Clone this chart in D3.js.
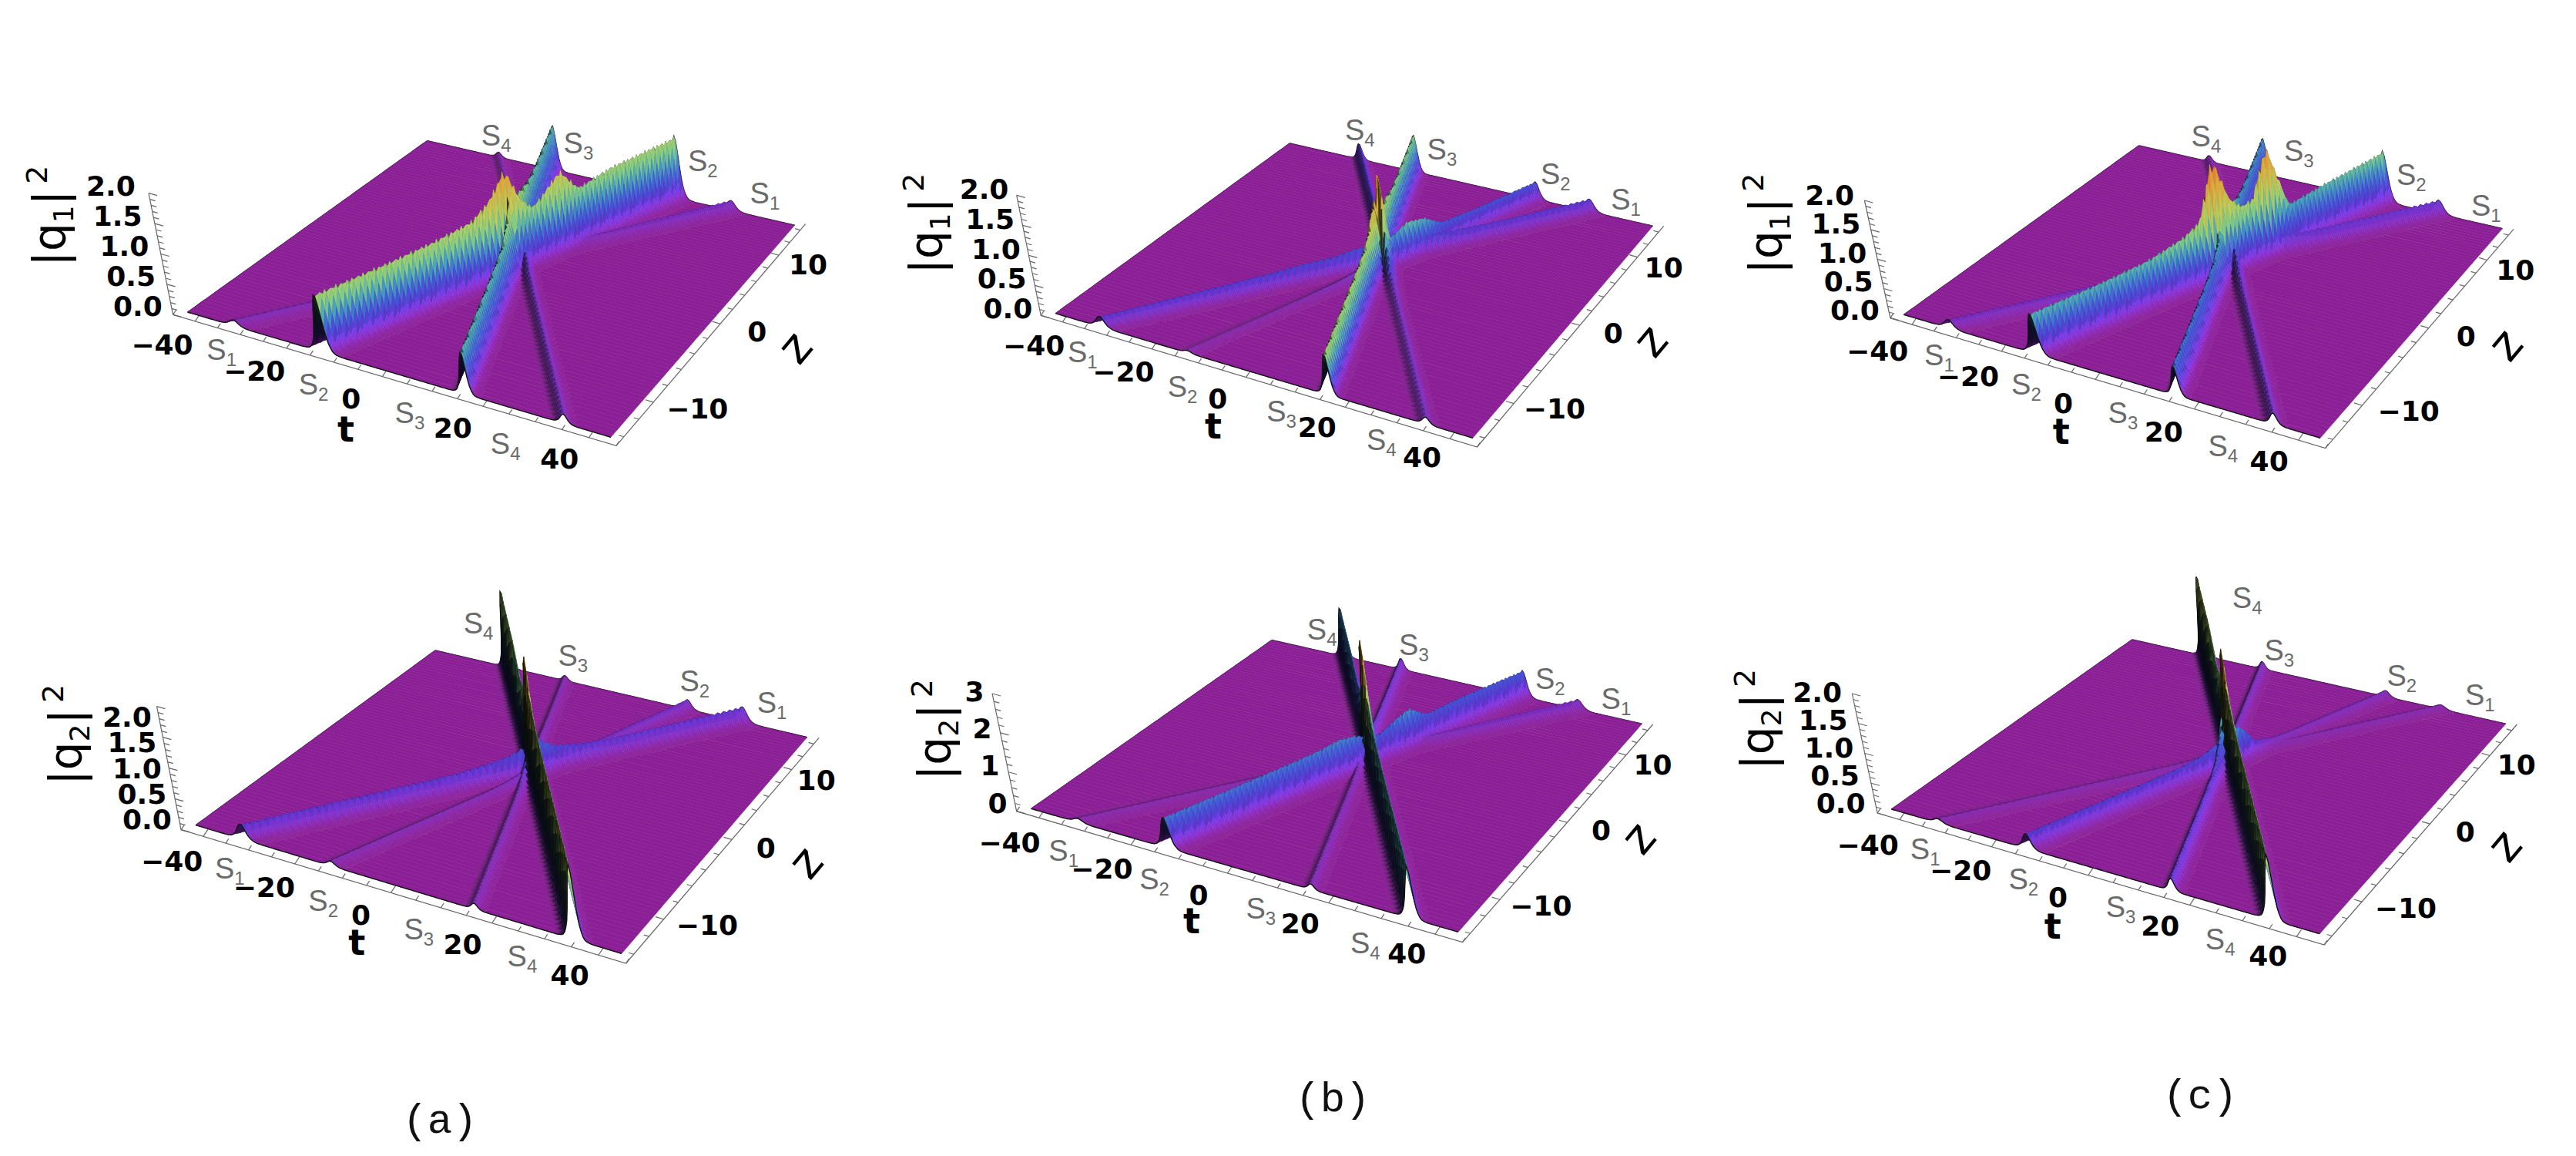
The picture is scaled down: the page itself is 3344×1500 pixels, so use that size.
<!DOCTYPE html>
<html>
<head>
<meta charset="utf-8">
<script src="https://cdn.jsdelivr.net/npm/d3@7"></script>
<style>
  html, body { margin: 0; background: #fff; }
  text { font-family: "DejaVu Sans", sans-serif; }
  .tick-label { font-weight: bold; font-size: 36px; text-anchor: middle; fill: #000; }
  .soliton { font-family: "Liberation Sans", sans-serif; font-size: 38px; fill: #6a6a6a; text-anchor: middle; }
  .caption { font-family: "Liberation Mono", monospace; font-size: 54px; text-anchor: middle; fill: #111; }
</style>
</head>
<body>
<svg id="fig" width="3344" height="1500"></svg>
<script>
// axis ranges and ticks
var tRange = [-45, 45];
var zRange = [-15, 15];
var tTicks = [-40, -20, 0, 20, 40];
var zTicks = [-10, 0, 10];

// where each soliton meets the z = -15 and z = 15 edges of the plate (S1..S4)
var solitonNames = ["1", "2", "3", "4"];
var tAtFront = [-34, -14, 16.3, 36];
var tAtBack = [30.6, 18, -11.5, -26];
var ridgeWidth = [1.3, 1.1, 0.8, 0.85];

// cross section of a ridge
var shapeOffset = [0, 0.25, 0.5, 0.75, 1, 1.25, 1.5, 2, 2.5, 3, 4];
var shapeHeight = [1, 0.94, 0.79, 0.6, 0.42, 0.28, 0.18, 0.07, 0.025, 0.01, 0];

// ridge height along z
var zStations = [-15, -10, -6, -3, -1.5, 0, 1, 2, 3, 4.5, 6, 9, 15];

var q1aS1 = [0.10, 0.10, 0.10, 0.10, 0.10, 0.08, 0.10, 0.12, 0.05, 0.08, 0.12, 0.14, 0.16];
var q1aS2 = [0.97, 0.97, 0.99, 1.05, 1.25, 1.65, 1.10, 0.85, 1.00, 1.25, 0.85, 0.95, 0.98];
var q1aS3 = [0.72, 0.72, 0.72, 0.75, 0.90, 1.15, 0.70, 0.90, 0.95, 0.85, 0.78, 0.74, 0.72];
var q1aS4 = [0.16, 0.16, 0.16, 0.17, 0.20, 0.30, 0.30, 0.25, 0.10, 0.08, 0.08, 0.08, 0.08];

var q1bS1 = [0.18, 0.20, 0.22, 0.25, 0.25, 0.30, 0.30, 0.35, 0.30, 0.25, 0.22, 0.20, 0.20];
var q1bS2 = [0.04, 0.04, 0.05, 0.07, 0.12, 0.25, 0.40, 0.45, 0.55, 0.50, 0.30, 0.28, 0.28];
var q1bS3 = [0.70, 0.70, 0.70, 0.72, 0.80, 1.00, 1.05, 0.60, 0.70, 0.70, 0.62, 0.60, 0.60];
var q1bS4 = [0.12, 0.12, 0.12, 0.13, 0.20, 0.50, 1.35, 1.40, 0.80, 0.40, 0.28, 0.25, 0.25];

var q1cS1 = [0.15, 0.15, 0.15, 0.17, 0.20, 0.25, 0.30, 0.30, 0.25, 0.25, 0.23, 0.23, 0.23];
var q1cS2 = [0.70, 0.70, 0.73, 0.85, 1.00, 1.95, 1.20, 0.95, 1.00, 1.75, 0.65, 0.72, 0.83];
var q1cS3 = [0.52, 0.52, 0.52, 0.55, 0.65, 0.85, 0.70, 0.70, 0.75, 0.70, 0.62, 0.60, 0.60];
var q1cS4 = [0.20, 0.20, 0.20, 0.20, 0.25, 0.40, 0.50, 0.40, 0.20, 0.12, 0.10, 0.10, 0.10];

var q2aS1 = [0.25, 0.25, 0.25, 0.25, 0.28, 0.32, 0.40, 0.50, 0.35, 0.28, 0.24, 0.24, 0.24];
var q2aS2 = [0.08, 0.08, 0.08, 0.08, 0.10, 0.15, 0.20, 0.30, 0.20, 0.12, 0.12, 0.14, 0.15];
var q2aS3 = [0.10, 0.10, 0.10, 0.10, 0.12, 0.20, 0.30, 0.30, 0.20, 0.12, 0.10, 0.08, 0.08];
var q2aS4 = [1.27, 1.27, 1.27, 1.28, 1.32, 1.50, 1.95, 1.45, 1.20, 1.00, 0.95, 1.15, 1.20];

var q2bS1 = [0.10, 0.10, 0.10, 0.10, 0.12, 0.15, 0.20, 0.25, 0.15, 0.15, 0.20, 0.22, 0.24];
var q2bS2 = [0.80, 0.80, 0.80, 0.82, 0.88, 0.80, 0.60, 0.60, 0.75, 0.92, 0.60, 0.65, 0.65];
var q2bS3 = [0.15, 0.15, 0.15, 0.15, 0.18, 0.25, 0.40, 0.50, 0.40, 0.32, 0.28, 0.27, 0.27];
var q2bS4 = [1.38, 1.38, 1.38, 1.40, 1.50, 1.90, 3.10, 1.80, 1.30, 1.10, 0.95, 1.15, 1.20];

var q2cS1 = [0.07, 0.07, 0.07, 0.07, 0.07, 0.10, 0.15, 0.12, 0.07, 0.07, 0.07, 0.07, 0.07];
var q2cS2 = [0.26, 0.26, 0.26, 0.27, 0.30, 0.40, 0.60, 0.50, 0.20, 0.12, 0.10, 0.10, 0.10];
var q2cS3 = [0.22, 0.22, 0.22, 0.24, 0.30, 0.45, 0.70, 0.50, 0.25, 0.14, 0.12, 0.12, 0.12];
var q2cS4 = [1.15, 1.15, 1.15, 1.16, 1.25, 1.40, 1.90, 1.40, 1.20, 1.00, 1.00, 1.25, 1.30];

// height colours (fraction of the panel maximum)
var colorStops = [0, 0.05, 0.12, 0.2, 0.3, 0.38, 0.5, 0.7, 0.85, 1];
var colorValues = ["#8b1f96", "#7a2bb4", "#5a38d0", "#4458d8", "#46a0be", "#82cd87", "#becd5a", "#e1a53c", "#e87830", "#e6321e"];

// layout, in the coordinates of the zoom crops: x / sx + x0, y / 3 + y0
var panels = [
  { rows: [q1aS1, q1aS2, q1aS3, q1aS4], sub: "1", hMax: 2, hTicks: [0, 0.5, 1, 1.5, 2], hMinor: 0.1, fmt: ".1f", colorMax: 2.0,
    x0: 0, y0: 120, sx: 1.425,
    left: [347, 855], back: [790, 188], right: [1470, 517], front: [1130, 1342],
    frameLeft: [320, 865], frameFront: [1140, 1375], frameRight: [1490, 512], axisTop: [275, 392],
    tFirst: [300, 980], tLast: [1035, 1425], zFirst: [1290, 1230], zLast: [1495, 670],
    hFirst: [255, 830], hLast: [205, 362],
    tTitle: [640, 1310], zTitle: [1475, 1000], yTitle: [95, 480],
    sBack: [[1415, 395], [1300, 270], [1070, 200], [918, 170]],
    sFront: [[410, 1005], [580, 1140], [758, 1250], [935, 1370]] },
  { rows: [q1bS1, q1bS2, q1bS3, q1bS4], sub: "1", hMax: 2, hTicks: [0, 0.5, 1, 1.5, 2], hMinor: 0.1, fmt: ".1f", colorMax: 1.45,
    x0: 1100, y0: 120, sx: 1.425,
    left: [385, 860], back: [818, 198], right: [1490, 520], front: [1157, 1345],
    frameLeft: [358, 868], frameFront: [1165, 1380], frameRight: [1510, 520], axisTop: [313, 400],
    tFirst: [345, 985], tLast: [1063, 1420], zFirst: [1308, 1230], zLast: [1510, 680],
    hFirst: [297, 840], hLast: [253, 375],
    tTitle: [677, 1300], zTitle: [1490, 975], yTitle: [150, 510],
    sBack: [[1440, 420], [1310, 320], [1100, 225], [948, 150]],
    sFront: [[435, 1015], [620, 1150], [803, 1245], [988, 1355]] },
  { rows: [q1cS1, q1cS2, q1cS3, q1cS4], sub: "1", hMax: 2, hTicks: [0, 0.5, 1, 1.5, 2], hMinor: 0.1, fmt: ".1f", colorMax: 2.0,
    x0: 2200, y0: 120, sx: 1.3706,
    left: [372, 865], back: [790, 207], right: [1437, 530], front: [1113, 1345],
    frameLeft: [348, 878], frameFront: [1122, 1385], frameRight: [1457, 532], axisTop: [302, 420],
    tFirst: [325, 1005], tLast: [1022, 1435], zFirst: [1270, 1240], zLast: [1460, 690],
    hFirst: [285, 845], hLast: [240, 400],
    tTitle: [652, 1320], zTitle: [1447, 990], yTitle: [130, 510],
    sBack: [[1408, 445], [1275, 325], [1075, 230], [910, 175]],
    sFront: [[435, 1025], [590, 1140], [762, 1250], [940, 1380]] },
  { rows: [q2aS1, q2aS2, q2aS3, q2aS4], sub: "2", hMax: 2, hTicks: [0, 0.5, 1, 1.5, 2], hMinor: 0.1, fmt: ".1f", colorMax: 1.95,
    x0: 0, y0: 730, sx: 1.425,
    left: [362, 1022], back: [805, 342], right: [1493, 680], front: [1150, 1522],
    frameLeft: [335, 1040], frameFront: [1158, 1560], frameRight: [1515, 682], axisTop: [290, 560],
    tFirst: [318, 1160], tLast: [1054, 1605], zFirst: [1308, 1410], zLast: [1510, 845],
    hFirst: [272, 1000], hLast: [235, 600],
    tTitle: [660, 1480], zTitle: [1495, 1175], yTitle: [125, 670],
    sBack: [[1428, 550], [1285, 465], [1060, 365], [885, 240]],
    sFront: [[425, 1195], [598, 1320], [775, 1430], [966, 1535]] },
  { rows: [q2bS1, q2bS2, q2bS3, q2bS4], sub: "2", hMax: 3, hTicks: [0, 1, 2, 3], hMinor: 0.2, fmt: "d", colorMax: 3.1,
    x0: 1100, y0: 730, sx: 1.425,
    left: [340, 958], back: [785, 302], right: [1470, 628], front: [1130, 1438],
    frameLeft: [313, 968], frameFront: [1138, 1478], frameRight: [1490, 630], axisTop: [268, 510],
    tFirst: [300, 1090], tLast: [1035, 1520], zFirst: [1283, 1335], zLast: [1490, 785],
    hFirst: [278, 935], hLast: [235, 500],
    tTitle: [637, 1395], zTitle: [1468, 1080], yTitle: [165, 650],
    sBack: [[1422, 535], [1300, 455], [1048, 325], [878, 265]],
    sFront: [[400, 1125], [568, 1235], [765, 1350], [958, 1485]] },
  { rows: [q2cS1, q2cS2, q2cS3, q2cS4], sub: "2", hMax: 2, hTicks: [0, 0.5, 1, 1.5, 2], hMinor: 0.1, fmt: ".1f", colorMax: 1.9,
    x0: 2200, y0: 730, sx: 1.3706,
    left: [350, 960], back: [778, 300], right: [1443, 628], front: [1112, 1445],
    frameLeft: [325, 975], frameFront: [1120, 1488], frameRight: [1463, 630], axisTop: [280, 510],
    tFirst: [308, 1097], tLast: [1020, 1530], zFirst: [1265, 1345], zLast: [1462, 785],
    hFirst: [260, 935], hLast: [218, 505],
    tTitle: [637, 1415], zTitle: [1445, 1110], yTitle: [115, 610],
    sBack: [[1397, 520], [1258, 445], [1040, 345], [983, 140]],
    sFront: [[410, 1120], [585, 1235], [758, 1345], [935, 1470]] }
];

var captions = [["(a)", 571, 1470], ["(b)", 1730, 1442], ["(c)", 2856, 1438]];

var svg = d3.select("#fig");
var tToU = d3.scaleLinear().domain(tRange).range([0, 1]);
var zToV = d3.scaleLinear().domain(zRange).range([0, 1]);
var color = d3.scaleLinear().domain(colorStops).range(colorValues).clamp(true);
var shape = d3.scaleLinear().domain(shapeOffset).range(shapeHeight).clamp(true);
var tStep = 0.3, zStep = 0.4;
// vertical lines converge below the plot, this far away in axis lengths
var vanish = 27.7;

// perspective map of the unit square onto the plate
function plateMap(p00, p10, p11, p01) {
  var dx1 = p10[0] - p11[0], dx2 = p01[0] - p11[0], sx = p00[0] - p10[0] + p11[0] - p01[0];
  var dy1 = p10[1] - p11[1], dy2 = p01[1] - p11[1], sy = p00[1] - p10[1] + p11[1] - p01[1];
  var den = dx1 * dy2 - dx2 * dy1;
  var g = (sx * dy2 - dx2 * sy) / den, h = (dx1 * sy - sx * dy1) / den;
  var a = p10[0] - p00[0] + g * p10[0], b = p01[0] - p00[0] + h * p01[0];
  var d = p10[1] - p00[1] + g * p10[1], e = p01[1] - p00[1] + h * p01[1];
  return function (u, v) {
    var w = g * u + h * v + 1;
    return [(a * u + b * v + p00[0]) / w, (d * u + e * v + p00[1]) / w];
  };
}

panels.forEach(drawPanel);

captions.forEach(function (c) {
  svg.append("text").attr("class", "caption").attr("x", c[1]).attr("y", c[2]).text(c[0]);
});

function drawPanel(p) {
  var at = function (c) { return [p.x0 + c[0] / p.sx, p.y0 + c[1] / 3]; };
  var g = svg.append("g");
  var base = plateMap(at(p.left), at(p.front), at(p.right), at(p.back));
  var bl = at(p.frameLeft), top = at(p.axisTop);
  var vp = [bl[0] + vanish * (bl[0] - top[0]), bl[1] + vanish * (bl[1] - top[1])];
  var hToK = d3.scaleLinear().domain([0, p.hMax]).range([0, 1 / vanish]);
  var slopeScale = (bl[1] - top[1]) / p.hMax / 80;

  function project(t, z, h) {
    var b = base(tToU(t), zToV(z)), k = hToK(h);
    return [b[0] + k * (b[0] - vp[0]), b[1] + k * (b[1] - vp[1])];
  }

  var ridges = p.rows.map(function (row, i) {
    return {
      center: d3.scaleLinear().domain(zRange).range([tAtFront[i], tAtBack[i]]),
      amp: d3.scaleLinear().domain(zStations).range(row),
      width: ridgeWidth[i]
    };
  });

  function height(t, z) {
    var best = 0;
    ridges.forEach(function (r) {
      var off = Math.abs(t - r.center(z)) / r.width;
      if (off < 4) best = Math.max(best, r.amp(z) * shape(off));
    });
    return best;
  }

  var ts = d3.range(tRange[0], tRange[1] + 0.001, tStep);
  var zs = d3.range(zRange[1], zRange[0] - 0.001, -zStep);
  var heights = zs.map(function (z) { return ts.map(function (t) { return height(t, z); }); });

  function shade(h, gx) {
    var c = d3.rgb(color(h / p.colorMax));
    var s = gx * slopeScale, f = 1;
    if (s > 0) f = 1 / (1 + 12 * s);
    else if (h / p.colorMax < 0.1) f = 1 + Math.min(0.18, -0.9 * s);
    return d3.rgb(c.r * f, c.g * f, c.b * f).formatHex();
  }

  // back to front, left to right, so nearer cells paint over farther ones
  var cells = [];
  var flat = 0.004;
  for (var i = 0; i < zs.length - 1; i++) {
    var runStart = -1;
    for (var j = 0; j < ts.length - 1; j++) {
      var h00 = heights[i][j], h01 = heights[i][j + 1], h10 = heights[i + 1][j], h11 = heights[i + 1][j + 1];
      if (Math.max(h00, h01, h10, h11) < flat) {
        if (runStart < 0) runStart = j;
        if (j < ts.length - 2) continue;
      }
      if (runStart >= 0) {
        var endCol = Math.max(h00, h01, h10, h11) < flat ? j + 1 : j;
        cells.push({
          pts: [project(ts[runStart], zs[i], 0), project(ts[endCol], zs[i], 0), project(ts[endCol], zs[i + 1], 0), project(ts[runStart], zs[i + 1], 0)],
          fill: colorValues[0]
        });
        runStart = -1;
        if (endCol === j + 1) continue;
      }
      var gx = (h01 + h11 - h00 - h10) / (2 * tStep);
      cells.push({
        pts: [project(ts[j], zs[i], h00), project(ts[j + 1], zs[i], h01), project(ts[j + 1], zs[i + 1], h11), project(ts[j], zs[i + 1], h10)],
        fill: shade((h00 + h01 + h10 + h11) / 4, gx)
      });
    }
  }

  var line = d3.line();

  // frame and ticks sit behind the surface
  var frameG = g.append("g").attr("stroke", "#666").attr("stroke-width", 1.2).attr("fill", "none");
  frameG.append("path").attr("d", line([top, bl, at(p.frameFront), at(p.frameRight)]));

  var frontOff = [at(p.frameFront)[0] - at(p.front)[0], at(p.frameFront)[1] - at(p.front)[1]];
  var leftOff = [bl[0] - at(p.left)[0], bl[1] - at(p.left)[1]];
  var rightOff = [at(p.frameRight)[0] - at(p.right)[0], at(p.frameRight)[1] - at(p.right)[1]];

  var tFrame = function (t) {
    var u = tToU(t), b = base(u, 0);
    return [b[0] + leftOff[0] + u * (frontOff[0] - leftOff[0]), b[1] + leftOff[1] + u * (frontOff[1] - leftOff[1])];
  };
  var zFrame = function (z) {
    var v = zToV(z), b = base(1, v);
    return [b[0] + frontOff[0] + v * (rightOff[0] - frontOff[0]), b[1] + frontOff[1] + v * (rightOff[1] - frontOff[1])];
  };

  d3.range(-45, 45.1, 5).forEach(function (t) {
    var a = tFrame(t), len = tTicks.indexOf(t) >= 0 ? 11 : 7;
    frameG.append("path").attr("d", line([a, [a[0] + len * 0.55, a[1] - len * 0.83]]));
  });
  d3.range(-14, 14.1, 2).forEach(function (z) {
    var a = zFrame(z), len = zTicks.indexOf(z) >= 0 ? 11 : 7;
    frameG.append("path").attr("d", line([a, [a[0] - len * 0.96, a[1] - len * 0.28]]));
  });
  var hAxis = d3.scaleLinear().domain([0, p.hMax]);
  d3.range(0, p.hMax + 0.001, p.hMinor).forEach(function (h) {
    var f = hAxis(h), x = bl[0] + f * (top[0] - bl[0]), y = bl[1] + f * (top[1] - bl[1]);
    var major = p.hTicks.some(function (v) { return Math.abs(v - h) < 1e-6; });
    frameG.append("path").attr("d", line([[x, y], [x + (major ? 11 : 7), y + (major ? 3 : 2)]]));
  });

  // back outlines
  var outline = g.append("g").attr("fill", "none").attr("stroke", "#111");
  outline.append("path").attr("stroke-width", 1.6)
    .attr("d", line(ts.map(function (t, j) { return project(t, zRange[1], heights[0][j]); })));
  outline.append("path").attr("stroke-width", 1.2)
    .attr("d", line(zs.map(function (z) { return project(tRange[0], z, 0); })));

  g.append("g").selectAll("path").data(cells).join("path")
    .attr("d", function (d) { return line(d.pts) + "Z"; })
    .attr("fill", function (d) { return d.fill; })
    .attr("stroke", function (d) { return d.fill; })
    .attr("stroke-width", 0.5);

  g.append("path").attr("fill", "none").attr("stroke", "#111").attr("stroke-width", 1.4)
    .attr("d", line(ts.map(function (t, j) { return project(t, zRange[0], heights[zs.length - 1][j]); })));

  // tick labels follow the frame with an offset read at the end labels
  var minus = function (s) { return s.replace("-", "\u2212"); };
  var tA = tFrame(tTicks[0]), tB = tFrame(tTicks[tTicks.length - 1]);
  var tLa = at(p.tFirst), tLb = at(p.tLast);
  var tMix = d3.scaleLinear().domain([tTicks[0], tTicks[tTicks.length - 1]]).range([0, 1]);
  tTicks.forEach(function (t) {
    var a = tFrame(t), m = tMix(t);
    g.append("text").attr("class", "tick-label")
      .attr("x", a[0] + (tLa[0] - tA[0]) * (1 - m) + (tLb[0] - tB[0]) * m)
      .attr("y", a[1] + (tLa[1] - tA[1]) * (1 - m) + (tLb[1] - tB[1]) * m + 13)
      .text(minus(String(t)));
  });

  var zA = zFrame(zTicks[0]), zB = zFrame(zTicks[zTicks.length - 1]);
  var zLa = at(p.zFirst), zLb = at(p.zLast);
  var zMix = d3.scaleLinear().domain([zTicks[0], zTicks[zTicks.length - 1]]).range([0, 1]);
  zTicks.forEach(function (z) {
    var a = zFrame(z), m = zMix(z);
    g.append("text").attr("class", "tick-label")
      .attr("x", a[0] + (zLa[0] - zA[0]) * (1 - m) + (zLb[0] - zB[0]) * m)
      .attr("y", a[1] + (zLa[1] - zA[1]) * (1 - m) + (zLb[1] - zB[1]) * m + 13)
      .text(minus(String(z)));
  });

  var hFmt = d3.format(p.fmt);
  var hLabX = d3.scaleLinear().domain([0, p.hMax]).range([at(p.hFirst)[0], at(p.hLast)[0]]);
  var hLabY = d3.scaleLinear().domain([0, p.hMax]).range([at(p.hFirst)[1], at(p.hLast)[1]]);
  p.hTicks.forEach(function (h) {
    g.append("text").attr("class", "tick-label")
      .attr("x", hLabX(h)).attr("y", hLabY(h) + 13).text(hFmt(h));
  });

  // axis titles
  var tT = at(p.tTitle), zT = at(p.zTitle), yT = at(p.yTitle);
  g.append("text").attr("x", tT[0]).attr("y", tT[1] + 16).attr("text-anchor", "middle")
    .attr("font-size", 46).attr("font-weight", "bold").text("t");
  g.append("text").attr("text-anchor", "middle").attr("font-size", 60)
    .attr("transform", "translate(" + zT[0] + "," + zT[1] + ") rotate(-50) translate(0,16)").text("z");

  var yLabel = g.append("text").attr("text-anchor", "middle").attr("font-size", 58)
    .attr("transform", "translate(" + (yT[0] + 18) + "," + yT[1] + ") rotate(-90)");
  yLabel.append("tspan").text("|q");
  yLabel.append("tspan").attr("font-size", 36).attr("dy", 10).text(p.sub);
  yLabel.append("tspan").attr("dy", -10).text("|");
  yLabel.append("tspan").attr("font-size", 38).attr("dy", -24).attr("dx", 8).text("2");

  // soliton labels at both ends of the plate
  p.sBack.concat(p.sFront).forEach(function (c, i) {
    var pos = at(c);
    var idx = i < 4 ? i : i - 4;
    var s = g.append("text").attr("class", "soliton").attr("x", pos[0]).attr("y", pos[1] + 12);
    s.append("tspan").text("S");
    s.append("tspan").attr("font-size", 24).attr("dy", 8).text(solitonNames[idx]);
  });
}
</script>
</body>
</html>
